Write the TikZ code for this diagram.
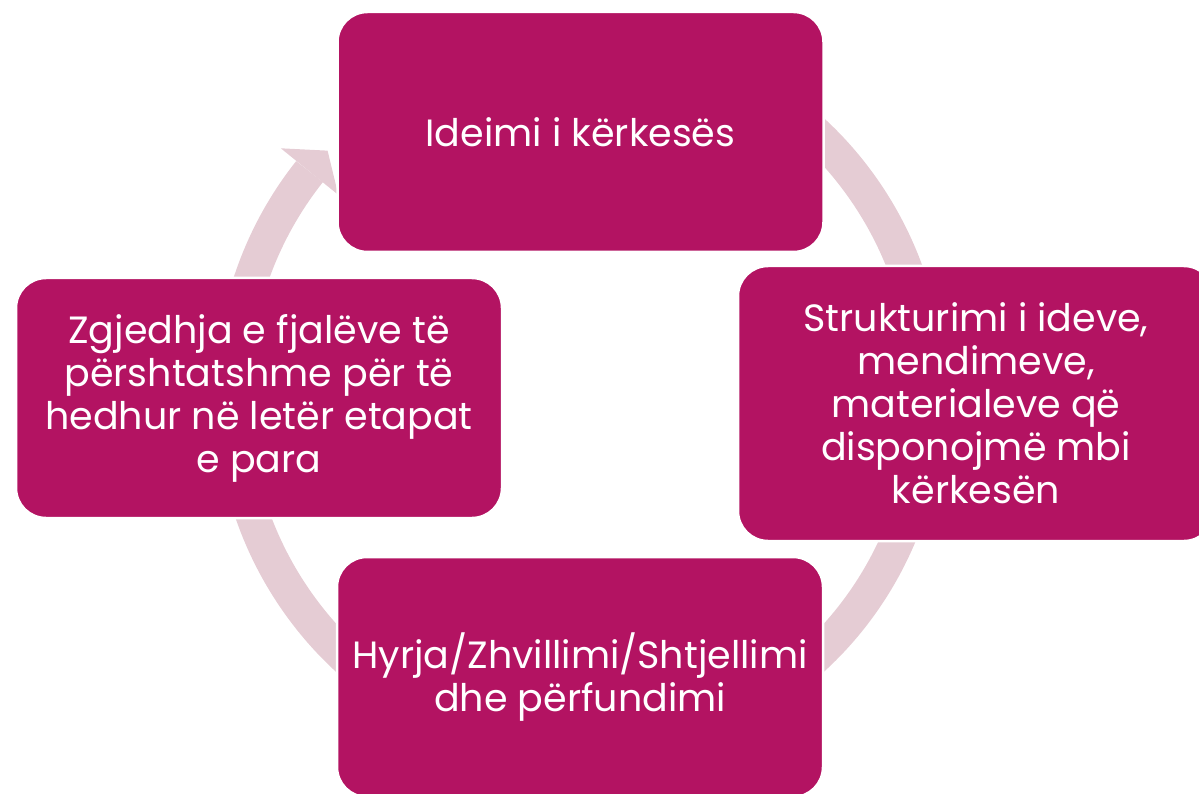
\documentclass[tikz,border=0pt]{standalone}
\usepackage{fontspec}
\setmainfont{Poppins}
\definecolor{fucsia}{RGB}{179,19,98}
\definecolor{rosa}{RGB}{229,204,212}

\begin{document}
\begin{tikzpicture}[x=1pt,y=-1pt,
  fase/.style={fill=fucsia, draw=white, line width=2.5pt, rounded corners=30pt,
    text=white, align=center, inner sep=0pt,
    font=\fontsize{38}{43}\selectfont}]

\clip (0,0) rectangle (1199,794);

% anello con freccia
\coordinate (centro) at (580,395);
\draw[rosa, line width=34pt] ([shift={(centro)}]235:348 and 355)
  arc[start angle=235, end angle=579, x radius=348, y radius=355];
\fill[rosa] ([shift={(centro)}]219:385 and 392) -- ([shift={(centro)}]223.5:348 and 355)
  -- ([shift={(centro)}]219:311 and 318) -- cycle;

% le quattro fasi
\node[fase, minimum width=486pt, minimum height=240pt] (ideimi) at (580.5,132) {Ideimi i kërkesës};
\node[fase, minimum width=476pt, minimum height=275pt] (strukturimi) at (976,403.5)
  {Strukturimi i ideve,\\mendimeve,\\materialeve që\\disponojmë mbi\\kërkesën};
\node[fase, minimum width=486pt, minimum height=240pt] (hyrja) at (580,677)
  {Hyrja/Zhvillimi/Shtjellimi\\dhe përfundimi};
\node[fase, minimum width=486pt, minimum height=240pt] (zgjedhja) at (259,398)
  {Zgjedhja e fjalëve të\\përshtatshme për të\\hedhur në letër etapat\\e para};

\end{tikzpicture}
\end{document}
